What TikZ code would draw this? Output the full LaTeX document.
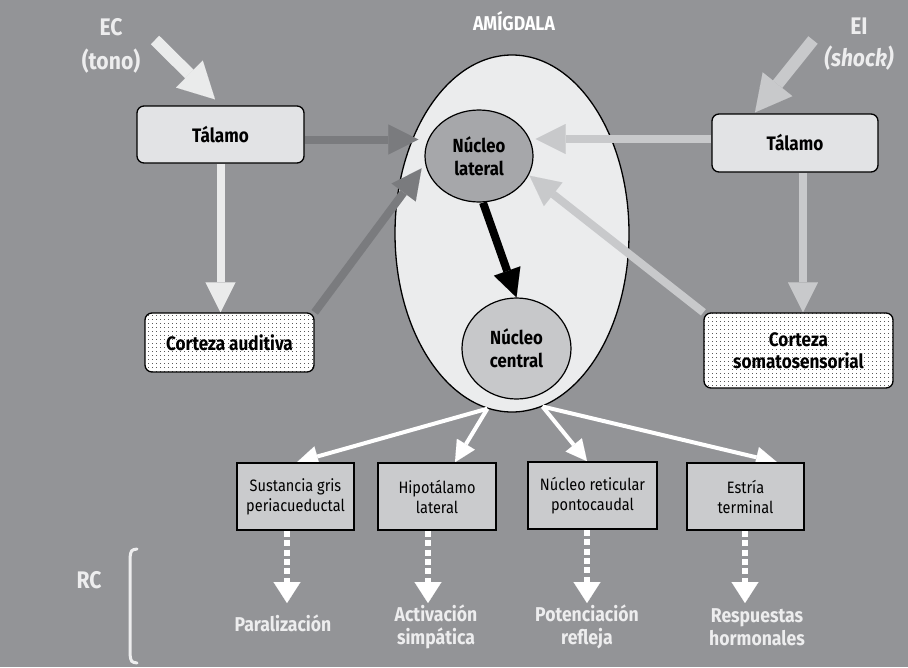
\documentclass[tikz,border=0pt]{standalone}
\usepackage{fontspec}
\setmainfont{Fira Sans}[FakeStretch=0.88]
\usetikzlibrary{arrows.meta,shapes.geometric,patterns}
\definecolor{bgc}{HTML}{939497}
\definecolor{boxc}{HTML}{E2E3E5}
\definecolor{amyc}{HTML}{EBECED}
\definecolor{latc}{HTML}{A6A7AA}
\definecolor{cenc}{HTML}{C7C8CA}
\definecolor{lowc}{HTML}{CACBCD}
\definecolor{darkar}{HTML}{7A7B7E}
\definecolor{lightar}{HTML}{C8C9CB}
\definecolor{whitear}{HTML}{EAEBEB}
\definecolor{txtw}{HTML}{EDEDEE}
\pgfdeclarepatternformonly{sparsedots}{\pgfpointorigin}{\pgfqpoint{3.5pt}{3.5pt}}%
  {\pgfqpoint{3.5pt}{3.5pt}}%
  {\pgfpathcircle{\pgfqpoint{1.75pt}{1.75pt}}{0.42pt}\pgfusepath{fill}}
\pgfdeclarelayer{back}
\pgfdeclarelayer{mid}
\pgfsetlayers{back,mid,main}
\tikzset{
  tbox/.style={draw, line width=1.3pt, rounded corners=7pt, fill=boxc, inner sep=0pt,
    font=\fontsize{19.5}{23}\bfseries\selectfont, align=center},
  dotbox/.style={draw, line width=1.3pt, rounded corners=7pt, preaction={fill=white},
    pattern=sparsedots, inner sep=0pt, font=\fontsize{19.5}{22}\bfseries\selectfont, align=center},
  nucleus/.style={ellipse, draw, line width=1.2pt, inner sep=0pt,
    font=\fontsize{19}{23}\bfseries\selectfont, align=center},
  lowbox/.style={draw, line width=1.6pt, fill=lowc, inner sep=0pt, minimum height=67pt,
    font=\fontsize{16.5}{20}\selectfont, align=center},
  resp/.style={text=txtw, font=\fontsize{20}{23}\bfseries\selectfont, align=center},
  fat/.style={line width=8pt, -{Triangle[width=30pt,length=30pt,line width=0.01pt]}},
  huge/.style={line width=12pt, -{Triangle[width=38pt,length=36pt,line width=0.01pt]}},
  thin/.style={draw=white, line width=4pt, -{Triangle[width=21pt,length=21pt,line width=0.01pt]}},
  dotted arrow/.style={draw=white, line width=6pt, dash pattern=on 6pt off 3.4pt,
    -{Triangle[width=27pt,length=21pt,line width=0.01pt]}},
}
\begin{document}
\begin{tikzpicture}[x=1pt,y=-1pt]
\begin{pgfonlayer}{back}
  \fill[bgc] (0,0) rectangle (908,667);
  \node[ellipse, draw, line width=1.3pt, fill=amyc, minimum width=234pt, minimum height=357pt,
    inner sep=0pt] (amy) at (512,233.5) {};
\end{pgfonlayer}
\path[use as bounding box] (0,0) rectangle (908,667);

% titles
\node[text=white, font=\fontsize{20}{22}\bfseries\selectfont] (title) at (514,21) {AMÍGDALA};
\node[text=txtw, font=\fontsize{24}{34}\bfseries\selectfont, align=center] (ec) at (111,46)
  {EC\\(tono)};
\node[text=txtw, font=\fontsize{24}{32}\bfseries\selectfont, align=center] (ei) at (859,44)
  {EI\\\itshape(shock)};

% boxes of the left and right pathways
\node[tbox, minimum width=167pt, minimum height=57pt] (tl) at (220.5,134.5) {Tálamo};
\node[tbox, minimum width=166pt, minimum height=58pt] (tr) at (795,143) {Tálamo};
\node[dotbox, minimum width=169pt, minimum height=59pt] (ca) at (229.5,342.5) {Corteza auditiva};
\node[dotbox, minimum width=189pt, minimum height=75pt] (cs) at (798.5,350.5)
  {Corteza\\somatosensorial};

% nuclei of the amygdala
\node[nucleus, fill=latc, minimum width=108pt, minimum height=92pt] (lat) at (479,156)
  {Núcleo\\lateral};
\node[nucleus, fill=cenc, minimum width=109pt, minimum height=101pt] (cen) at (516.5,348.5)
  {Núcleo\\central};

% output targets
\node[lowbox, minimum width=117pt] (b1) at (295.5,496.5) {Sustancia gris\\periacueductal};
\node[lowbox, minimum width=118pt] (b2) at (437,496.5) {Hipotálamo\\lateral};
\node[lowbox, minimum width=129pt] (b3) at (592.5,495.5) {Núcleo reticular\\pontocaudal};
\node[lowbox, minimum width=117pt] (b4) at (745.5,496.5) {Estría\\terminal};

% responses
\node[resp] (r1) at (283,623) {Paralización};
\node[resp] (r2) at (436,627) {Activación\\simpática};
\node[resp] (r3) at (587,627) {Potenciación\\refleja};
\node[resp] (r4) at (757,627) {Respuestas\\hormonales};
\node[text=txtw, font=\fontsize{24}{26}\bfseries\selectfont] (rc) at (89,580) {RC};
\draw[txtw, line width=3pt, line cap=round] (137,549) .. controls (131,550) .. (130,558)
  -- (130,654) .. controls (131,662) .. (137,663);

\coordinate (ecs) at (155,40);
\coordinate (eis) at (813,40);
\coordinate (e1) at (287,603);
\coordinate (e2) at (428,603);
\coordinate (e3) at (587,603);
\coordinate (e4) at (745,603);

\begin{pgfonlayer}{mid}
  % stimuli
  \draw[huge, whitear] (ecs) -- ([xshift=-5.5pt,yshift=6pt]tl.north);
  \draw[huge, lightar] (eis) -- ([xshift=-40pt,yshift=1pt]tr.north);
  % auditory pathway
  \draw[fat, darkar, shorten >=6pt] ([yshift=-5pt]tl.east) -- ([yshift=-5pt]tl.east -| lat.west);
  \draw[fat, whitear] (tl.south) -- (tl.south |- ca.north);
  \draw[fat, darkar, shorten >=6pt] (ca.north east) -- (lat.188);
  % somatosensory pathway
  \draw[fat, lightar, shorten >=2pt] ([yshift=4pt]tr.west) -- ([yshift=4pt]tr.west -| lat.east);
  \draw[fat, lightar] ([xshift=8pt]tr.south) -- ([xshift=8pt]tr.south |- cs.north);
  \draw[fat, lightar, shorten >=1pt] (cs.north west) -- (lat.339);
  % internal connection
  \draw[line width=8pt, -{Triangle[width=28pt,length=28pt,line width=0.01pt]}] ([xshift=4pt]lat.south) -- (cen.north);
  % outputs
  \draw[thin] (amy.262) -- ([xshift=1.5pt]b1.north);
  \draw[thin] (amy.262) -- ([xshift=18pt]b2.north);
  \draw[thin] (amy.280) -- ([xshift=-5.5pt]b3.north);
  \draw[thin] (amy.280) -- ([xshift=31.5pt]b4.north);
  % responses
  \draw[dotted arrow] ([xshift=-8.5pt]b1.south) -- (e1);
  \draw[dotted arrow] ([xshift=-9pt]b2.south) -- (e2);
  \draw[dotted arrow] ([xshift=-5.5pt]b3.south) -- (e3);
  \draw[dotted arrow] ([xshift=-0.5pt]b4.south) -- (e4);
\end{pgfonlayer}
\end{tikzpicture}
\end{document}
